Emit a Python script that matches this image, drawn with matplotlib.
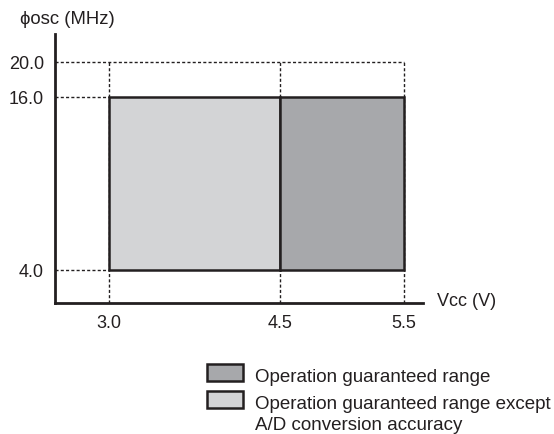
import numpy as np
import matplotlib
matplotlib.use("Agg")
import matplotlib.pyplot as plt
from matplotlib.patches import Rectangle

plt.rcParams['font.family'] = ['Liberation Sans', 'DejaVu Sans']

# data
vcc_ticks = [3.0, 4.5, 5.5]
fosc_ticks = [4.0, 16.0, 20.0]
fosc_max = 20.0
# (vcc_lo, vcc_hi, f_lo, f_hi)
range_except_ad = (3.0, 4.5, 4.0, 16.0)
range_full = (4.5, 5.5, 4.0, 16.0)
legend_labels = ["Operation guaranteed range",
                 "Operation guaranteed range except\nA/D conversion accuracy"]

light = "#d3d4d6"
dark = "#a7a8ab"
ink = "#231f20"
fs = 13

# schematic (non-linear) axes: piecewise linear knots
xk_val = [2.0, 2.6, 3.0, 4.5, 5.5, 5.7, 6.5]
xk_pos = [0.0, 55, 109, 280, 404, 423, 500]
yk_val = [-5.0, 1.0, 4.0, 16.0, 20.0, 23.0, 30.0]
yk_pos = [0.0, 131, 164, 337, 372, 400, 480]

def fwd(k_val, k_pos):
    return lambda v: np.interp(v, k_val, k_pos)

def inv(k_val, k_pos):
    return lambda p: np.interp(p, k_pos, k_val)

fig = plt.figure(figsize=(5.54, 4.35), dpi=100)
W, H = 554, 435
ax = fig.add_axes([55 / W, 131 / H, (423 - 55) / W, (400 - 131) / H])
ax.set_xscale('function', functions=(fwd(xk_val, xk_pos), inv(xk_val, xk_pos)))
ax.set_yscale('function', functions=(fwd(yk_val, yk_pos), inv(yk_val, yk_pos)))
ax.set_xlim(2.6, 5.7)
ax.set_ylim(1.0, 23.0)

for s in ['top', 'right']:
    ax.spines[s].set_visible(False)
for s in ['left', 'bottom']:
    ax.spines[s].set_linewidth(2.0)
    ax.spines[s].set_color(ink)

ax.set_xticks(vcc_ticks)
ax.set_xticklabels([f"{v:.1f}" for v in vcc_ticks])
ax.set_yticks(fosc_ticks)
ax.set_yticklabels([f"{v:.1f}" for v in fosc_ticks])
ax.tick_params(length=0, labelsize=fs, colors=ink)
ax.tick_params(axis='y', pad=8)
ax.tick_params(axis='x', pad=8)

dot = dict(color=ink, lw=1.0, ls=(0, (2.2, 1.6)), zorder=1)
# dotted guides
ax.plot([2.6, vcc_ticks[-1]], [fosc_max, fosc_max], **dot)
for f in fosc_ticks[:2]:
    ax.plot([2.6, vcc_ticks[0]], [f, f], **dot)
for v in vcc_ticks:
    ax.plot([v, v], [1.0, fosc_max], **dot)

for (x0, x1, y0, y1), c in [(range_except_ad, light), (range_full, dark)]:
    ax.fill([x0, x1, x1, x0], [y0, y0, y1, y1], facecolor=c, edgecolor=ink,
            lw=1.8, zorder=3, joinstyle='miter')

fig.text(20 / W, 1 - 19 / H, "\u03d5osc (MHz)", fontsize=13.3, color=ink,
         va='center', ha='left')
fig.text(437 / W, 1 - 302 / H, "Vcc (V)", fontsize=fs, color=ink,
         va='center', ha='left')

# legend
for i, (lab, c) in enumerate(zip(legend_labels, [dark, light])):
    yc = 373.5 + i * 27
    fig.add_artist(Rectangle((207 / W, 1 - (yc + 8.3) / H), 36 / W, 16.6 / H,
                             facecolor=c, edgecolor=ink, lw=1.8,
                             transform=fig.transFigure))
    fig.text(255 / W, 1 - (yc - 4.5) / H, lab, fontsize=13.5, color=ink,
             va='top', ha='left', linespacing=1.32)

fig.savefig("out.png", dpi=100)
